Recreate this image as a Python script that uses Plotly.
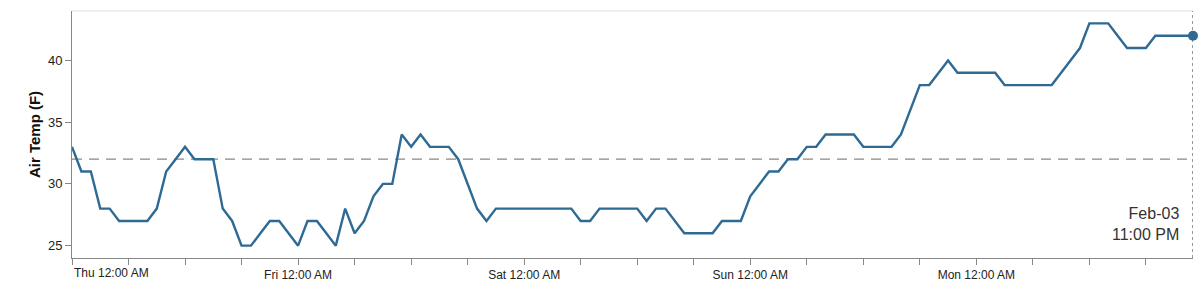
import pandas as pd
import plotly.graph_objects as go

# ---- data ----
start_time = "2020-01-30 00:00"
air_temp_f = [
    33, 31, 31, 28, 28, 27, 27, 27, 27, 28, 31, 32, 33, 32, 32, 32, 28, 27, 25, 25, 26, 27, 27, 26,
    25, 27, 27, 26, 25, 28, 26, 27, 29, 30, 30, 34, 33, 34, 33, 33, 33, 32, 30, 28, 27, 28, 28, 28,
    28, 28, 28, 28, 28, 28, 27, 27, 28, 28, 28, 28, 28, 27, 28, 28, 27, 26, 26, 26, 26, 27, 27, 27,
    29, 30, 31, 31, 32, 32, 33, 33, 34, 34, 34, 34, 33, 33, 33, 33, 34, 36, 38, 38, 39, 40, 39, 39,
    39, 39, 39, 38, 38, 38, 38, 38, 38, 39, 40, 41, 43, 43, 43, 42, 41, 41, 41, 42, 42, 42, 42, 42,
]
freezing_f = 32
tick_dates = ["2020-01-30", "2020-01-31", "2020-02-01", "2020-02-02", "2020-02-03"]
tick_labels = ["Thu 12:00 AM", "Fri 12:00 AM", "Sat 12:00 AM", "Sun 12:00 AM", "Mon 12:00 AM"]
y_ticks = [25, 30, 35, 40]
y_range = [24, 44]

times = pd.date_range(start_time, periods=len(air_temp_f), freq="h")
last_t = times[-1]
last_v = air_temp_f[-1]

LINE = "#2e6a93"
FONT = "Liberation Sans, Arial, Helvetica, sans-serif"

fig = go.Figure()
fig.add_trace(go.Scatter(x=times, y=air_temp_f, mode="lines",
                         line=dict(color=LINE, width=2.4), hoverinfo="skip"))
fig.add_trace(go.Scatter(x=[last_t], y=[last_v], mode="markers", cliponaxis=False,
                         marker=dict(color=LINE, size=10), hoverinfo="skip"))

# freezing line
fig.add_shape(type="line", xref="paper", yref="y", x0=0, x1=1, y0=freezing_f, y1=freezing_f,
              line=dict(color="#888888", width=1.2, dash="10px,7px"), layer="below")
# top border
fig.add_shape(type="line", xref="paper", yref="paper", x0=0, x1=1, y0=1, y1=1,
              line=dict(color="#dddddd", width=1))
# rule at last point
fig.add_shape(type="line", xref="x", yref="paper", x0=last_t, x1=last_t, y0=0, y1=1,
              line=dict(color="#555555", width=1.2, dash="3px,3px"))

fig.add_annotation(x=last_t, y=0, xref="x", yref="paper", yanchor="bottom", xanchor="right",
                   xshift=-12, yshift=13, showarrow=False, align="right",
                   text=last_t.strftime("%b-%d") + "<br>" + last_t.strftime("%I:%M %p"),
                   font=dict(family=FONT, size=16, color="#333333"))

# first tick label flush-left
fig.add_annotation(x=pd.Timestamp(tick_dates[0]), y=0, xref="x", yref="paper",
                   xanchor="left", yanchor="top", yshift=-6, showarrow=False,
                   text=tick_labels[0], font=dict(family=FONT, size=12, color="#222222"))

fig.update_layout(
    width=1200, height=283,
    margin=dict(l=72, r=7, t=11, b=25),
    paper_bgcolor="white", plot_bgcolor="white",
    showlegend=False,
    font=dict(family=FONT, size=12, color="#222222"),
    xaxis=dict(
        range=[times[0], last_t], automargin=False,
        tickvals=pd.to_datetime(tick_dates),
        ticktext=[""] + tick_labels[1:],
        ticks="outside", ticklen=6, tickcolor="#888888",
        showline=True, linecolor="#888888", linewidth=1,
        showgrid=False, zeroline=False,
        minor=dict(dtick=6 * 3600 * 1000, ticks="outside", ticklen=6, tickcolor="#888888",
                   showgrid=False),
        tickfont=dict(size=12, color="#222222"),
    ),
    yaxis=dict(
        range=y_range, tickvals=y_ticks, automargin=False,
        ticks="outside", ticklen=6, tickcolor="#888888",
        showline=True, linecolor="#888888", linewidth=1,
        showgrid=False, zeroline=False,
        tickfont=dict(size=13, color="#222222"),
        title=dict(text="<b>Air Temp (F)</b>", font=dict(size=15, color="#111111"), standoff=3),
    ),
)

fig.write_html("out.html")
